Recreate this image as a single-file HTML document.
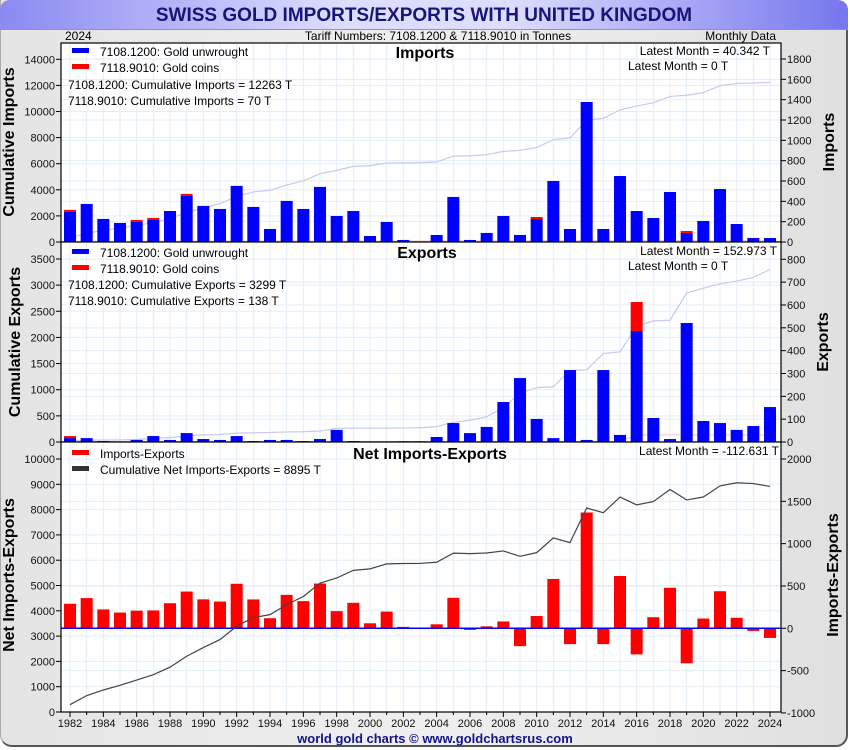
<!DOCTYPE html>
<html><head><meta charset="utf-8"><style>
html,body{margin:0;padding:0;width:850px;height:750px;overflow:hidden;background:#fff;font-family:"Liberation Sans",sans-serif}
#frame{position:absolute;left:0;top:0;width:845px;height:745px;border:2px solid #555;border-top:none;border-left:1px solid #aaa;border-radius:0 12px 12px 12px;background:linear-gradient(90deg,#e4e4e4,#efefef 50%,#e0e0e0)}
#hdr{position:absolute;left:0;top:0;width:848px;height:29px;border-radius:10px 10px 0 0;background:linear-gradient(90deg,#8a8af2,#ddddff 40%,#ddddff 60%,#7676ee);border-bottom:1px solid #9090c0;text-align:center;font-weight:bold;font-size:19px;line-height:31px;color:#161678}
svg{position:absolute;left:0;top:0}
</style></head><body>
<div id="frame"></div>
<div id="hdr">SWISS GOLD IMPORTS/EXPORTS WITH UNITED KINGDOM</div>
<svg id="c" width="850" height="750"></svg>
<script>
const years=[1982,1983,1984,1985,1986,1987,1988,1989,1990,1991,1992,1993,1994,1995,1996,1997,1998,1999,2000,2001,2002,2003,2004,2005,2006,2007,2008,2009,2010,2011,2012,2013,2014,2015,2016,2017,2018,2019,2020,2021,2022,2023,2024];
const impBlue=[296,374,227,187,197,217,305,453,355,325,552,345,128,404,325,542,256,305,59,197,20,0,69,443,20,89,256,69,226,600,128,1377,128,649,305,236,492,89,207,521,177,39,39];
const impRed=[20,0,0,0,20,20,0,20,0,0,0,0,0,0,0,0,0,0,0,0,0,5,0,0,0,0,0,0,20,0,0,0,0,0,0,0,0,19,0,0,0,0,0];
const expBlue=[17,17,4,1,9,26,9,39,13,9,26,4,9,9,4,13,53,4,0,0,3,3,22,83,39,66,175,280,101,17,315,9,315,31,486,105,13,521,92,83,53,70,153];
const expRed=[9,0,0,0,0,0,0,0,0,0,0,0,0,0,0,0,0,0,0,0,0,0,0,0,0,0,0,0,0,0,0,0,0,0,127,0,0,0,0,0,0,0,0];
const impLeftTicks=[0,2000,4000,6000,8000,10000,12000,14000];
const impRightTicks=[0,200,400,600,800,1000,1200,1400,1600,1800];
const expLeftTicks=[0,500,1000,1500,2000,2500,3000,3500];
const expRightTicks=[0,100,200,300,400,500,600,700,800];
const netLeftTicks=[0,1000,2000,3000,4000,5000,6000,7000,8000,9000,10000];
const netRightTicks=[-1000,-500,0,500,1000,1500,2000];

const NS="http://www.w3.org/2000/svg";const svg=document.getElementById('c');
function el(t,a,p){const e=document.createElementNS(NS,t);for(const k in a)e.setAttribute(k,a[k]);(p||svg).appendChild(e);return e;}
function txt(s,a,p){const e=el('text',a,p);e.textContent=s;return e;}
const X0=61,X1=781;
const x=i=>70+(years[i]-1982)*700/42;
function lin(v0,p0,v1,p1){return v=>p0+(v-v0)*(p1-p0)/(v1-v0);}
const panels=[
 {name:'imports',top:43,bot:242,L:lin(0,242,14000,59.3),R:lin(0,242,1800,59),lt:impLeftTicks,rt:impRightTicks},
 {name:'exports',top:242,bot:442,L:lin(0,442,3500,259),R:lin(0,442,800,259.3),lt:expLeftTicks,rt:expRightTicks},
 {name:'net',top:442,bot:712,L:lin(0,712,10000,459),R:lin(0,628.3,2000,459),lt:netLeftTicks,rt:netRightTicks}
];
panels.forEach(p=>{
 const g=el('g',{});
 el('rect',{x:X0,y:p.top,width:X1-X0,height:p.bot-p.top,fill:'#fff'},g);
 for(let i=0;i<years.length;i++){el('line',{x1:x(i),x2:x(i),y1:p.top,y2:p.bot,stroke:'#e3eef8','stroke-width':1},g);}
 p.lt.forEach(v=>{const y=p.L(v);el('line',{x1:X0,x2:X1,y1:y,y2:y,stroke:'#e3eef8'},g);
   el('line',{x1:X0-5,x2:X0,y1:y,y2:y,stroke:'#000'},g);
   const t=txt(String(v),{x:X0-6,y:y+4,'font-size':11,'text-anchor':'end',fill:'#111'},g);});
 p.rt.forEach(v=>{const y=p.R(v);el('line',{x1:X0,x2:X1,y1:y,y2:y,stroke:'#e3eef8'},g);
   el('line',{x1:X1,x2:X1+5,y1:y,y2:y,stroke:'#000'},g);
   const t=txt(String(v),{x:X1+6,y:y+4,'font-size':11,fill:'#111'},g);});
 p.g=g;
});
function cum(a){let s=0;return a.map(v=>s+=v);}
[[panels[0],impBlue,impRed],[panels[1],expBlue,expRed]].forEach(([p,b,r])=>{
 const cb=cum(b),cr=cum(r);
 el('polyline',{points:cb.map((v,i)=>x(i)+','+p.L(v)).join(' '),fill:'none',stroke:'#c8c8f4','stroke-width':1.2},p.g);
 el('polyline',{points:cr.map((v,i)=>x(i)+','+p.L(v)).join(' '),fill:'none',stroke:'#f6c8c8','stroke-width':1},p.g);
 b.forEach((v,i)=>{const y0=p.R(0),yb=p.R(v),yr=p.R(v+r[i]);
  const rb=el('rect',{x:x(i)-6,y:yb,width:12,height:y0-yb,fill:'#0000ff'},p.g);
  
  if(r[i]>0){const rr=el('rect',{x:x(i)-6,y:yr,width:12,height:yb-yr,fill:'#ff0000'},p.g);
  }
 });
});
const pn=panels[2];
const net=impBlue.map((v,i)=>v+impRed[i]-expBlue[i]-expRed[i]);
net.forEach((v,i)=>{const y0=pn.R(0),y=pn.R(v);
 const r=el('rect',{x:x(i)-6,y:Math.min(y,y0),width:12,height:Math.abs(y0-y),fill:'#ff0000'},pn.g);
 });
el('line',{x1:X0,x2:X1,y1:pn.R(0),y2:pn.R(0),stroke:'#0000ff','stroke-width':1.5},pn.g);
const cn=cum(net);
el('polyline',{points:cn.map((v,i)=>x(i)+','+pn.L(v)).join(' '),fill:'none',stroke:'#444','stroke-width':1.2},pn.g);
panels.forEach(p=>el('rect',{x:X0,y:p.top,width:X1-X0,height:p.bot-p.top,fill:'none',stroke:'#000','stroke-width':1.2},p.g));
years.forEach((yr,i)=>{el('line',{x1:x(i),x2:x(i),y1:712,y2:yr%2?715:717,stroke:'#000'});
 if(yr%2===0){const t=txt(String(yr),{x:x(i),y:727,'font-size':11,'text-anchor':'middle',fill:'#111'});}});
function T(s,a,name){const t=txt(s,a);return t;}
T('2024',{x:65,y:40,'font-size':12},'year-label');
T('Tariff Numbers: 7108.1200 & 7118.9010 in Tonnes',{x:438,y:40,'font-size':12,'text-anchor':'middle'},'subtitle');
T('Monthly Data',{x:776,y:40,'font-size':12,'text-anchor':'end'},'frequency-label');
function legend(y0,items){items.forEach((it,k)=>{const y=y0+k*16;
 const s=el('rect',{x:72,y:y-3,width:17,height:5,fill:it[1]});
 T(it[0],{x:100,y:y+5,'font-size':12},'legend-entry');});}
legend(51,[['7108.1200: Gold unwrought','#0000ff'],['7118.9010: Gold coins','#ff0000']]);
T('7108.1200: Cumulative Imports = 12263 T',{x:68,y:89,'font-size':12},'cumulative-imports-note');
T('7118.9010: Cumulative Imports = 70 T',{x:68,y:105,'font-size':12},'cumulative-coins-imports-note');
legend(252,[['7108.1200: Gold unwrought','#0000ff'],['7118.9010: Gold coins','#ff0000']]);
T('7108.1200: Cumulative Exports = 3299 T',{x:68,y:289,'font-size':12},'cumulative-exports-note');
T('7118.9010: Cumulative Exports = 138 T',{x:68,y:305,'font-size':12},'cumulative-coins-exports-note');
legend(453,[['Imports-Exports','#ff0000'],['Cumulative Net Imports-Exports = 8895 T','#333']]);
T('Imports',{x:425,y:58,'font-size':16,'font-weight':'bold','text-anchor':'middle'},'imports-panel-title');
T('Exports',{x:427,y:258,'font-size':16,'font-weight':'bold','text-anchor':'middle'},'exports-panel-title');
T('Net Imports-Exports',{x:430,y:459,'font-size':16,'font-weight':'bold','text-anchor':'middle'},'net-panel-title');
T('Latest Month = 40.342 T',{x:770,y:55,'font-size':12,'text-anchor':'end'},'latest-month-imports');
T('Latest Month = 0 T',{x:628,y:70,'font-size':12},'latest-month-coins-imports');
T('Latest Month = 152.973 T',{x:777,y:255,'font-size':12,'text-anchor':'end'},'latest-month-exports');
T('Latest Month = 0 T',{x:628,y:270,'font-size':12},'latest-month-coins-exports');
T('Latest Month = -112.631 T',{x:779,y:455,'font-size':12,'text-anchor':'end'},'latest-month-net');
function vt(s,cx,cy,rot,name){T(s,{x:cx,y:cy,'font-size':16,'font-weight':'bold','text-anchor':'middle',transform:'rotate('+rot+' '+cx+' '+cy+')'},name);}
vt('Cumulative Imports',14,142,-90,'left-axis-title-imports');
vt('Cumulative Exports',20,342,-90,'left-axis-title-exports');
vt('Net Imports-Exports',14,575,-90,'left-axis-title-net');
vt('Imports',834,142,-90,'right-axis-title-imports');
vt('Exports',828,342,-90,'right-axis-title-exports');
vt('Imports-Exports',838,575,-90,'right-axis-title-net');
T('world gold charts © www.goldchartsrus.com',{x:435,y:743,'font-size':13,'font-weight':'bold','text-anchor':'middle',fill:'#14148a'},'footer-credit');
</script>
</body></html>
